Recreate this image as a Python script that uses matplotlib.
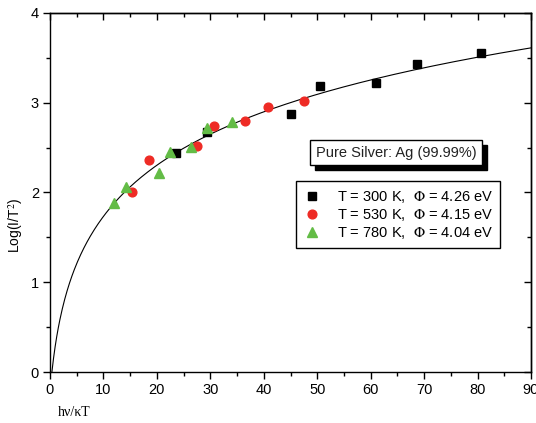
import numpy as np
import matplotlib
matplotlib.use("Agg")
import matplotlib.pyplot as plt
from matplotlib.patches import Rectangle

plt.rcParams['font.family'] = ['Liberation Sans', 'DejaVu Sans']
plt.rcParams['mathtext.fontset'] = 'stix'

# Data
x_300 = [23.5, 29.3, 45.1, 50.5, 61.0, 68.7, 80.7]
y_300 = [2.44, 2.67, 2.87, 3.19, 3.22, 3.43, 3.55]
x_530 = [15.3, 18.6, 27.5, 30.6, 36.4, 40.7, 47.5]
y_530 = [2.00, 2.36, 2.52, 2.74, 2.80, 2.95, 3.02]
x_780 = [12.0, 14.2, 20.4, 22.5, 26.4, 29.4, 34.1]
y_780 = [1.88, 2.06, 2.22, 2.45, 2.51, 2.72, 2.78]

labels = [r"T = 300 K,  $\Phi$ = 4.26 eV",
          r"T = 530 K,  $\Phi$ = 4.15 eV",
          r"T = 780 K,  $\Phi$ = 4.04 eV"]

# logarithmic fit curve parameters: y = a*ln(x + d) + b
fit_a, fit_d, fit_b = 0.898, 1.28, -0.442
fit_x0, fit_x1 = 0.36, 90.0

fig = plt.figure(figsize=(5.36, 4.23), dpi=100)
ax = fig.add_axes([50/536, 51/423, 481/536, 359/423])

xf = np.linspace(fit_x0, fit_x1, 600)
ax.plot(xf, fit_a*np.log(xf + fit_d) + fit_b, color='black', lw=0.8, zorder=2)

ax.plot(x_300, y_300, 's', color='black', ms=5.8, ls='none', label=labels[0], zorder=3)
ax.plot(x_530, y_530, 'o', color='#EE2B25', ms=6.3, ls='none', label=labels[1], zorder=3)
ax.plot(x_780, y_780, '^', color='#63BC46', ms=6.8, ls='none', label=labels[2], zorder=3)

ax.set_xlim(0, 90)
ax.set_ylim(0, 4)
ax.set_xticks(np.arange(0, 91, 10))
ax.set_xticks(np.arange(0, 91, 5), minor=True)
ax.set_yticks([0, 1, 2, 3, 4])
ax.set_yticks(np.arange(0, 4.01, 0.5), minor=True)

for s in ax.spines.values():
    s.set_linewidth(1.0)

ax.tick_params(axis='both', which='major', direction='out', length=5, width=1.0,
               labelsize=10.5, pad=3)
ax.tick_params(axis='both', which='minor', direction='out', length=3, width=1.0)

# mirrored ticks pointing inward on top/right
axt = ax.secondary_xaxis('top')
axt.set_xticks(np.arange(0, 91, 10))
axt.set_xticks(np.arange(0, 91, 5), minor=True)
axt.tick_params(which='major', direction='in', length=5, width=1.0, labeltop=False)
axt.tick_params(which='minor', direction='in', length=3, width=1.0)
axt.spines['top'].set_linewidth(1.0)
axr = ax.secondary_yaxis('right')
axr.set_yticks([0, 1, 2, 3, 4])
axr.set_yticks(np.arange(0, 4.01, 0.5), minor=True)
axr.tick_params(which='major', direction='in', length=5, width=1.0, labelright=False)
axr.tick_params(which='minor', direction='in', length=3, width=1.0)
axr.spines['right'].set_linewidth(1.0)

fig.text(74/536, 1 - 412/423, "h\u03bd/\u03baT", family=['Liberation Serif', 'DejaVu Serif'],
         fontsize=10, ha='center', va='center')
fig.text(16/536, 1 - 225/423, "Log(I/T$^2$)", fontsize=10, rotation=90,
         ha='center', va='center')

# title box with shadow
title = "Pure Silver: Ag (99.99%)"
ttl = ax.text(0.72, 0.611, title, transform=ax.transAxes, fontsize=10.5, ha='center',
              va='center', color='#222222', zorder=6,
              bbox=dict(boxstyle='square,pad=0.4', fc='white', ec='black', lw=1))

leg = ax.legend(loc='upper left', bbox_to_anchor=(0.511, 0.531), fontsize=10.5,
                frameon=True, fancybox=False, framealpha=1, edgecolor='black',
                handlelength=1.2, handletextpad=1.1, borderpad=0.5, labelspacing=0.15,
                borderaxespad=0)
leg.get_frame().set_linewidth(1.0)

# shadow rectangle behind the title box (offset in pixels)
fig.canvas.draw()
bb = ttl.get_bbox_patch().get_window_extent()
off = 5
shadow = Rectangle((bb.x0 + off, bb.y0 - off), bb.width, bb.height,
                   transform=None, fc='black', ec='black', zorder=5)
ax.add_artist(shadow)

fig.savefig("out.png", dpi=100)
